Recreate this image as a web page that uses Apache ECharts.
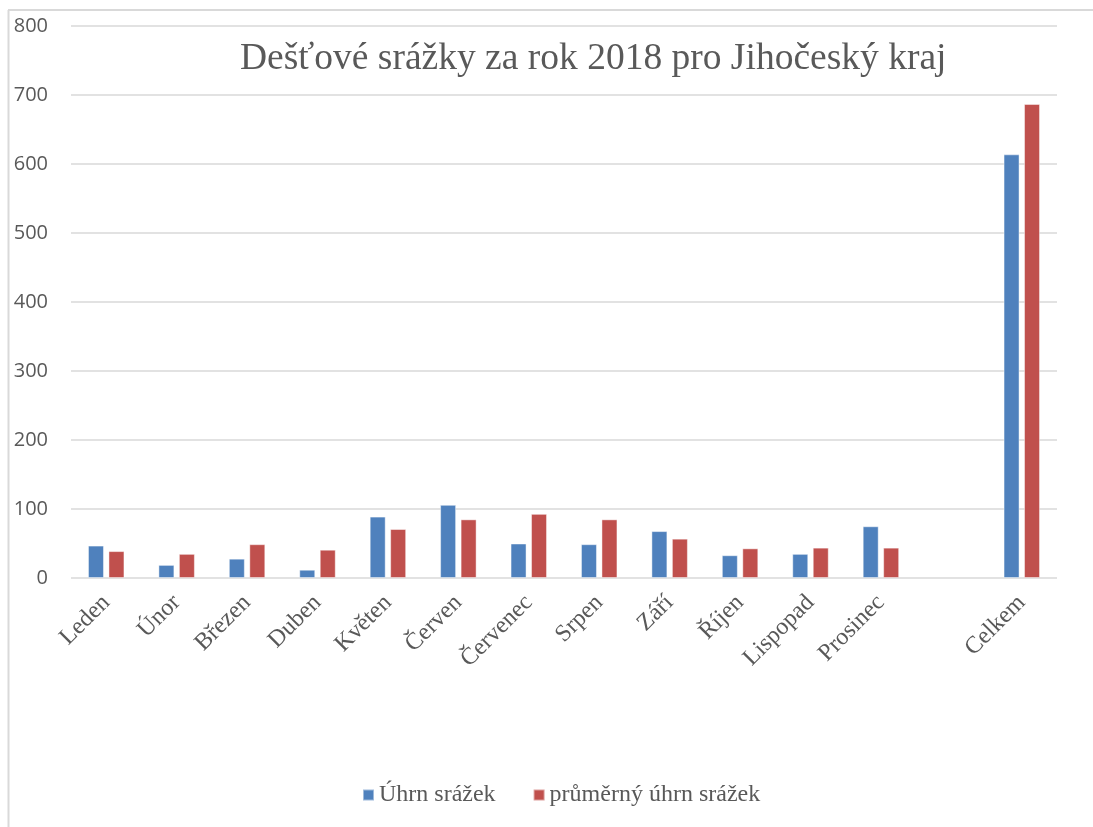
<!DOCTYPE html>
<html>
<head>
<meta charset="utf-8">
<script src="https://cdn.jsdelivr.net/npm/echarts@6/dist/echarts.min.js"></script>
<style>html,body{margin:0;padding:0;background:#fff;}#c{width:1093px;height:827px;}</style>
</head>
<body>
<div id="c"></div>
<script>
const categories = ['Leden','Únor','Březen','Duben','Květen','Červen','Červenec','Srpen','Září','Říjen','Lispopad','Prosinec','','Celkem'];
const uhrn = [47,19,28,12,89,106,50,49,68,33,35,75,null,614];
const prumer = [39,35,49,41,71,85,93,85,57,43,44,44,null,687];
const seriesNames = ['Úhrn srážek','průměrný úhrn srážek'];
const titleText = 'Dešťové srážky za rok 2018 pro Jihočeský kraj';

const chart = echarts.init(document.getElementById('c'));
const gray = '#595959';
chart.setOption({
  animation: false,
  backgroundColor: '#fff',
  title: {
    text: titleText,
    left: 240, top: 40, padding: 0,
    textStyle: {fontFamily: 'Liberation Serif', fontSize: 37.5, fontWeight: 'normal', color: gray}
  },
  legend: {
    data: seriesNames,
    left: 362, top: 783, padding: 0,
    itemWidth: 11, itemHeight: 11, itemGap: 37,
    icon: 'rect',
    textStyle: {fontFamily: 'Liberation Serif', fontSize: 24, color: gray}
  },
  grid: {left: 71, right: 36, top: 26, bottom: 249, containLabel: false},
  xAxis: {
    type: 'category',
    data: categories,
    axisLine: {show: false},
    axisTick: {show: false},
    axisLabel: {rotate: 45, interval: 0, margin: 21, fontFamily: 'Liberation Serif', fontSize: 24, color: gray}
  },
  yAxis: {
    type: 'value', min: 0, max: 800, interval: 100,
    axisLine: {show: false}, axisTick: {show: false},
    axisLabel: {margin: 23, fontFamily: 'Open Sans', fontSize: 20, color: gray},
    splitLine: {lineStyle: {color: '#d9d9d9', width: 1.5}}
  },
  series: [
    {name: seriesNames[0], type: 'bar', data: uhrn, barWidth: 16, barGap: '28%',
     itemStyle: {color: '#4f81bd', borderColor: 'rgba(255,255,255,0.45)', borderWidth: 1}},
    {name: seriesNames[1], type: 'bar', data: prumer, barWidth: 16, barGap: '28%',
     itemStyle: {color: '#c0504d', borderColor: 'rgba(255,255,255,0.45)', borderWidth: 1}}
  ],
  graphic: [
    {type: 'line', shape: {x1: 8.5, y1: 10, x2: 8.5, y2: 827}, style: {stroke: '#d9d9d9', lineWidth: 2}, silent: true},
    {type: 'line', shape: {x1: 8, y1: 10, x2: 1093, y2: 10}, style: {stroke: '#d9d9d9', lineWidth: 2}, silent: true}
  ]
});
</script>
</body>
</html>
